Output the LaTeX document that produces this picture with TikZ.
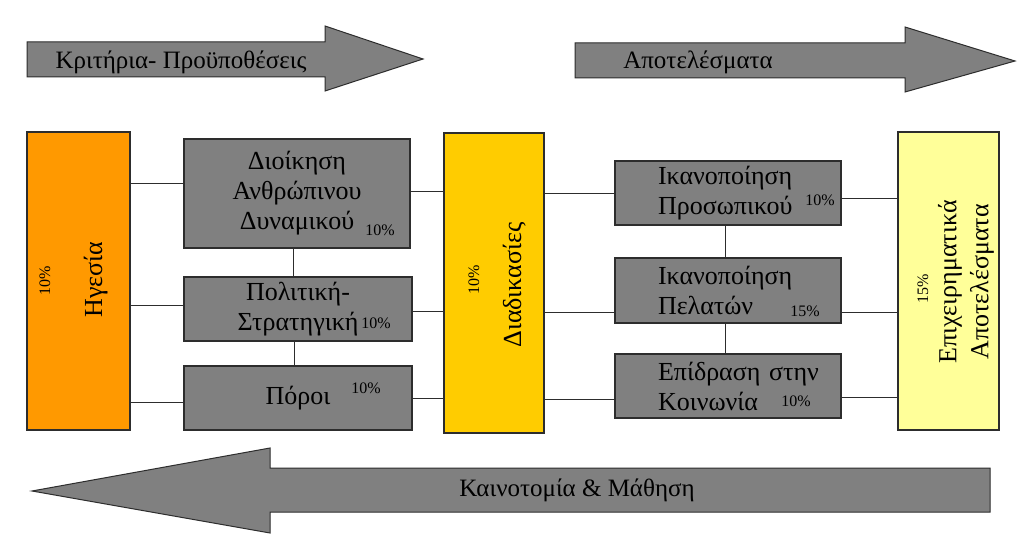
\documentclass[tikz,border=0pt]{standalone}
\usepackage{fontspec}
\setmainfont{Liberation Serif}
\newfontfamily\serifgr[Script=Greek]{Liberation Serif}
\usepackage{tikz}
\usetikzlibrary{calc}

\begin{document}
\begin{tikzpicture}[x=1pt,y=1pt,
  cell/.style={draw=drawColor,line width=1.3pt,inner sep=0pt,outer sep=0pt},
  greycell/.style={cell,fill=greyColor,minimum width=226pt,minimum height=64pt,font=\serifgr\fontsize{26}{30}\selectfont},
  tallcell/.style={cell,minimum width=101pt,minimum height=298pt},
  sidetext/.style={rotate=90,inner sep=0pt,outer sep=0pt,font=\serifgr\fontsize{26}{32}\selectfont},
  pct/.style={inner sep=0pt,outer sep=0pt,font=\serifgr\fontsize{16}{18}\selectfont},
  link/.style={draw=drawColor,line width=0.9pt},
  band/.style={draw=drawColor,line width=1pt,fill=greyColor,line join=miter},
  bandtext/.style={inner sep=0pt,outer sep=0pt,font=\serifgr\fontsize{25}{28}\selectfont}]
\definecolor{fillColor}{RGB}{255,255,255}
\definecolor{drawColor}{RGB}{45,45,45}
\definecolor{greyColor}{RGB}{128,128,128}
\definecolor{orangeColor}{RGB}{255,153,0}
\definecolor{goldColor}{RGB}{255,204,0}
\definecolor{paleColor}{RGB}{255,255,153}
\path[use as bounding box,fill=fillColor] (0,0) rectangle (1017,541);

\begin{scope}
\path[band] ( 27,464) -- (325,464) -- (325,450) -- (423,482) -- (325,515) -- (325,499) -- ( 27,499) -- cycle;
\path[band] (575,463) -- (905,463) -- (905,449) -- (1015,480) -- (905,514) -- (905,498) -- (575,498) -- cycle;
\path[band] (990, 29) -- (270, 29) -- (270,  8) -- ( 32, 50) -- (270, 93) -- (270, 73) -- (990, 73) -- cycle;
\node[bandtext] (crit) at (181,479) {Κριτήρια- Προϋποθέσεις};
\node[bandtext] (apot) at (698,479) {Αποτελέσματα};
\node[bandtext] (kain) at (577, 51) {Καινοτομία \& Μάθηση};
\end{scope}

\begin{scope}
\node[tallcell,fill=orangeColor,minimum width=103pt] (hgesia) at ( 78.5,260) {};
\node[tallcell,fill=goldColor,minimum width=100pt,minimum height=300pt] (diad) at (494,258) {};
\node[tallcell,fill=paleColor] (epix) at (948.5,260) {};

\node[greycell,minimum height=109pt,align=center] (dioik) at (297,347.5) {Διοίκηση\\Ανθρώπινου\\Δυναμικού};
\node[greycell,minimum width=228pt,align=center] (polit) at (298,232) {Πολιτική-\\Στρατηγική};
\node[greycell,minimum width=228pt] (poroi) at (298,143) {Πόροι};

\node[greycell,text width=140pt,align=left] (ikprosw) at (728,348) {Ικανοποίηση\\Προσωπικού};
\node[greycell,text width=140pt,align=left,minimum height=65pt] (ikpel) at (728,250.5) {Ικανοποίηση\\Πελατών};
\node[greycell,text width=140pt,align=left] (epidr) at (728,155) {Επίδραση~στην\\Κοινωνία};

\node[sidetext,anchor=base] (hgesiaT) at (102,261) {Ηγεσία};
\node[sidetext,anchor=base] (diadT) at (521,256) {Διαδικασίες};
\node[sidetext,align=center] (epixT) at (966,259) {Επιχειρηματικά\\Αποτελέσματα};

\node[pct,rotate=90,anchor=base] (hgesiaP) at ( 50,260) {10\%};
\node[pct,rotate=90,anchor=base] (diadP) at (479,261) {10\%};
\node[pct,rotate=90,anchor=base] (epixP) at (928,252) {15\%};
\node[pct] (dioikP) at (380,311) {10\%};
\node[pct] (politP) at (376,218) {10\%};
\node[pct] (poroiP) at (366,153) {10\%};
\node[pct] (ikprosP) at (820,341) {10\%};
\node[pct] (ikpelP) at (805,230) {15\%};
\node[pct] (epidrP) at (796,140) {10\%};
\end{scope}

\begin{scope}
\path[link] (hgesia.east |- dioik.175) -- (dioik.175);
\path[link] (hgesia.east |- polit.178) -- (polit.178);
\path[link] (hgesia.east |- poroi.182) -- (poroi.182);
\path[link] (dioik.1) -- (dioik.1 -| diad.west);
\path[link] (polit.359) -- (polit.359 -| diad.west);
\path[link] (poroi.east) -- (poroi.east -| diad.west);
\path[link] (diad.east |- ikprosw.west) -- (ikprosw.west);
\path[link] (diad.east |- ikpel.191) -- (ikpel.191);
\path[link] (diad.east |- epidr.187) -- (epidr.187);
\path[link] (ikprosw.357) -- (ikprosw.357 -| epix.west);
\path[link] (ikpel.349) -- (ikpel.349 -| epix.west);
\path[link] (epidr.354) -- (epidr.354 -| epix.west);
\path[link] (dioik.266) -- (dioik.266 |- polit.north);
\path[link] (polit.263) -- (polit.263 |- poroi.north);
\path[link] (ikprosw.266) -- (ikprosw.266 |- ikpel.north);
\path[link] (ikpel.265) -- (ikpel.265 |- epidr.north);
\end{scope}
\end{tikzpicture}
\end{document}
